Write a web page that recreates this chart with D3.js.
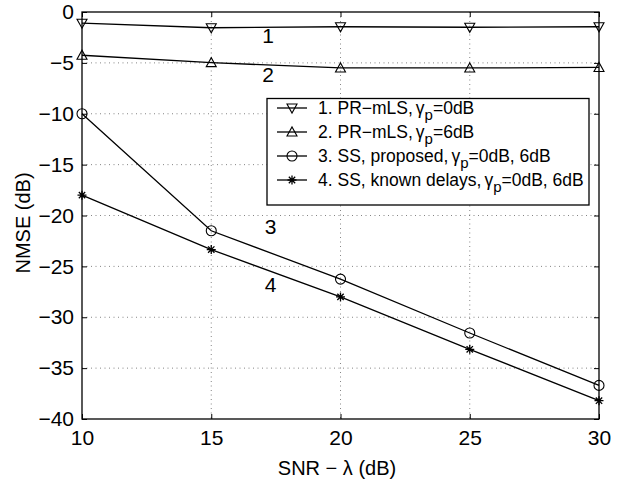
<!DOCTYPE html>
<html><head><meta charset="utf-8">
<script src="https://cdn.jsdelivr.net/npm/d3@7"></script>
<style>body{margin:0;background:#fff}svg{display:block}text{font-family:"Liberation Sans",Arial,Helvetica,sans-serif;fill:#000}</style>
</head><body><svg id="c" width="632" height="483"></svg>
<script>
const snr = [10, 15, 20, 25, 30];
const s1 = [-1.1, -1.55, -1.45, -1.5, -1.45];
const s2 = [-4.25, -4.98, -5.5, -5.5, -5.45];
const s3 = [-10.0, -21.5, -26.25, -31.55, -36.7];
const s4 = [-18.0, -23.35, -28.0, -33.15, -38.2];
const xTicks = [10, 15, 20, 25, 30];
const yTicks = [0, -5, -10, -15, -20, -25, -30, -35, -40];
const legendLabels = [["1. PR\u2212mLS,", "=0dB"], ["2. PR\u2212mLS,", "=6dB"], ["3. SS, proposed,", "=0dB, 6dB"], ["4. SS, known delays,", "=0dB, 6dB"]];
const curveLabels = ["1", "2", "3", "4"];
const curveLabelPos = [[17.2, -3.0], [17.2, -6.9], [17.3, -21.8], [17.3, -27.5]];
const markers = ["tdown", "tup", "circle", "star"];

const svg = d3.select("#c");
const L = 82, R = 599, T = 12, B = 419;
const x = d3.scaleLinear().domain([10, 30]).range([L, R]);
const y = d3.scaleLinear().domain([-40, 0]).range([B, T]);

// grid
const g = svg.append("g");
g.selectAll(".gx").data(xTicks.slice(1, -1)).enter().append("line")
  .attr("x1", d => x(d)).attr("x2", d => x(d)).attr("y1", T).attr("y2", B)
  .attr("stroke", "#666").attr("stroke-width", 0.8).attr("stroke-dasharray", "1,3.5");
g.selectAll(".gy").data(yTicks.slice(1, -1)).enter().append("line")
  .attr("y1", d => y(d)).attr("y2", d => y(d)).attr("x1", L).attr("x2", R)
  .attr("stroke", "#666").attr("stroke-width", 0.8).attr("stroke-dasharray", "1,3.5");

// axes (ticks inward)
const ax = svg.append("g");
const xb = d3.axisBottom(x).tickValues(xTicks).tickSize(-5).tickPadding(11);
const xt = d3.axisTop(x).tickValues(xTicks).tickSize(-5).tickFormat("");
const yl = d3.axisLeft(y).tickValues(yTicks).tickSize(-5).tickPadding(8).tickFormat(d => d < 0 ? "\u2212" + Math.abs(d) : d);
const yr = d3.axisRight(y).tickValues(yTicks).tickSize(-5).tickFormat("");
ax.append("g").attr("transform", `translate(0,${B})`).call(xb);
ax.append("g").attr("transform", `translate(0,${T})`).call(xt);
ax.append("g").attr("transform", `translate(${L},0)`).call(yl);
ax.append("g").attr("transform", `translate(${R},0)`).call(yr);
ax.selectAll(".domain").remove();
ax.selectAll(".tick line").attr("stroke", "#000").attr("stroke-width", 1);
ax.selectAll(".tick text").style("font-size", "21px").attr("fill", "#000");
svg.append("rect").attr("x", L).attr("y", T).attr("width", R - L).attr("height", B - T)
  .attr("fill", "none").attr("stroke", "#000").attr("stroke-width", 1.3);

// marker drawing
function drawMarker(sel, type, cx, cy) {
  const m = sel.append("g").attr("transform", `translate(${cx},${cy})`);
  if (type === "tdown") m.append("path").attr("d", "M-5,-4L5,-4L0,5Z").attr("fill", "none").attr("stroke", "#000").attr("stroke-width", 1.1);
  if (type === "tup") m.append("path").attr("d", "M-5,4L5,4L0,-5Z").attr("fill", "none").attr("stroke", "#000").attr("stroke-width", 1.1);
  if (type === "circle") m.append("circle").attr("r", 5).attr("fill", "none").attr("stroke", "#000").attr("stroke-width", 1.1);
  if (type === "star") {
    const r = 4.5, d = r * 0.707;
    m.append("path").attr("d", `M${-r},0L${r},0M0,${-r}L0,${r}M${-d},${-d}L${d},${d}M${-d},${d}L${d},${-d}`)
      .attr("stroke", "#000").attr("stroke-width", 1.3);
  }
}

const series = [s1, s2, s3, s4];
const line = d3.line().x((d, i) => x(snr[i])).y(d => y(d));
const pg = svg.append("g");
series.forEach((s, k) => {
  pg.append("path").attr("d", line(s)).attr("fill", "none").attr("stroke", "#000").attr("stroke-width", 1.3);
  s.forEach((v, i) => drawMarker(pg, markers[k], x(snr[i]), y(v)));
});

// curve labels
curveLabels.forEach((t, k) => {
  svg.append("text").attr("x", x(curveLabelPos[k][0])).attr("y", y(curveLabelPos[k][1]))
    .attr("text-anchor", "middle").style("font-size", "21px").text(t);
});

// legend
const lg = svg.append("g");
lg.append("rect").attr("x", 267).attr("y", 98.5).attr("width", 322).attr("height", 106.5)
  .attr("fill", "#fff").attr("stroke", "#000").attr("stroke-width", 1.3);
legendLabels.forEach((lab, k) => {
  const cy = 108 + k * 24;
  lg.append("line").attr("x1", 277).attr("x2", 307).attr("y1", cy).attr("y2", cy).attr("stroke", "#000").attr("stroke-width", 1.3);
  drawMarker(lg, markers[k], 292, cy);
  const t = lg.append("text").attr("x", 318).attr("y", cy + 6).style("font-size", "17.5px");
  t.append("tspan").text(lab[0]);
  t.append("tspan").attr("dx", 3).text("\u03b3");
  t.append("tspan").attr("dy", 6).style("font-size", "15px").text("p");
  t.append("tspan").attr("dy", -6).text(lab[1]);
});

// axis titles
svg.append("text").attr("x", 337).attr("y", 475).attr("text-anchor", "middle").style("font-size", "20px").text("SNR \u2212 \u03bb (dB)");
svg.append("text").attr("transform", "translate(30,223) rotate(-90)").attr("text-anchor", "middle").style("font-size", "20px").text("NMSE (dB)");
</script></body></html>
